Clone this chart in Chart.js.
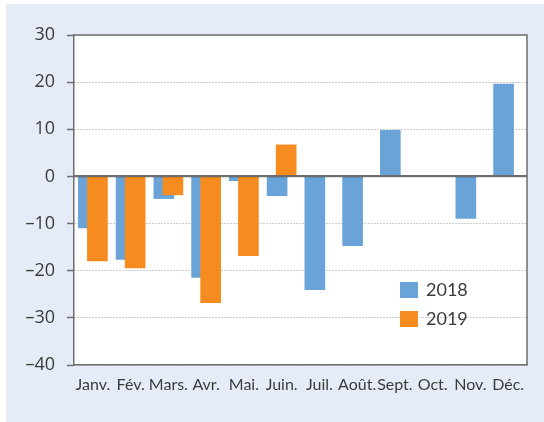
<!DOCTYPE html>
<html>
<head>
<meta charset="utf-8">
<script src="https://cdn.jsdelivr.net/npm/chart.js@4/dist/chart.umd.min.js"></script>
<style>
  html, body { margin: 0; padding: 0; background: #ffffff; }
  #wrap { position: absolute; left: 0; top: 0; width: 544px; height: 422px; }
</style>
</head>
<body>
<div id="wrap"><canvas id="c" width="544" height="422"></canvas></div>
<script>
// ---- data ----
const months = ['Janv.', 'Fév.', 'Mars.', 'Avr.', 'Mai.', 'Juin.', 'Juil.', 'Août.', 'Sept.', 'Oct.', 'Nov.', 'Déc.'];
const values2018 = [-10.9, -17.6, -4.7, -21.4, -0.9, -4.1, -24.0, -14.7, 9.8, null, -8.9, 19.6];
const values2019 = [-17.9, -19.4, -3.9, -26.8, -16.8, 6.7, null, null, null, null, null, null];
const seriesNames = ['2018', '2019'];
const yTicks = [-40, -30, -20, -10, 0, 10, 20, 30];

const BLUE = '#6aa3d8';
const ORANGE = '#f68c1f';
const TEXT = '#3b3b3b';
const AXIS = '#6e6e6e';
const PANEL = '#e5ecf7';
const SHIFT = 0.12;

function points(values, shift) {
  const out = [];
  values.forEach((v, i) => { if (v !== null) out.push({ x: i + shift, y: v }); });
  return out;
}

const chromePlugin = {
  id: 'chrome',
  beforeDraw(chart) {
    const { ctx, chartArea: a } = chart;
    ctx.save();
    ctx.fillStyle = '#ffffff';
    ctx.fillRect(0, 0, chart.width, chart.height);
    ctx.fillStyle = PANEL;
    ctx.fillRect(6, 4, chart.width - 6, chart.height - 4);
    ctx.fillStyle = '#ffffff';
    ctx.fillRect(a.left, a.top, a.right - a.left, a.bottom - a.top);
    ctx.restore();
  },
  afterDatasetsDraw(chart) {
    const { ctx, chartArea: a, scales } = chart;
    const y0 = Math.round(scales.y.getPixelForValue(0));
    ctx.save();
    ctx.strokeStyle = 'rgba(0,0,0,0.12)';
    ctx.lineWidth = 1;
    ctx.beginPath();
    ctx.moveTo(a.left, y0 + 1.5);
    ctx.lineTo(a.right, y0 + 1.5);
    ctx.stroke();
    ctx.strokeStyle = AXIS;
    ctx.lineWidth = 2;
    ctx.beginPath();
    ctx.moveTo(a.left, y0);
    ctx.lineTo(a.right, y0);
    ctx.stroke();
    ctx.lineWidth = 1.5;
    ctx.beginPath();
    ctx.moveTo(a.left, a.top);
    ctx.lineTo(a.right, a.top);
    ctx.lineTo(a.right, a.bottom);
    ctx.stroke();
    ctx.restore();
  },
  afterDraw(chart) {
    const { ctx, chartArea: a } = chart;
    const colors = [BLUE, ORANGE];
    ctx.save();
    ctx.font = '18px "Lato", sans-serif';
    ctx.textBaseline = 'middle';
    ctx.textAlign = 'left';
    seriesNames.forEach((name, i) => {
      const top = a.top + 247 + i * 29;
      ctx.fillStyle = colors[i];
      ctx.fillRect(a.left + 326, top, 18, 16);
      ctx.fillStyle = TEXT;
      ctx.fillText(name, a.left + 352, top + 8.5);
    });
    ctx.restore();
  }
};

new Chart(document.getElementById('c'), {
  type: 'bar',
  data: {
    datasets: [
      { label: seriesNames[0], data: points(values2018, -SHIFT), backgroundColor: BLUE, order: 1, grouped: false, barThickness: 20 },
      { label: seriesNames[1], data: points(values2019, SHIFT), backgroundColor: ORANGE, order: 0, grouped: false, barThickness: 20 }
    ]
  },
  options: {
    responsive: false,
    animation: false,
    devicePixelRatio: 1,
    layout: { padding: { left: 0, top: 35, right: 17, bottom: 0 } },
    plugins: { legend: { display: false }, tooltip: { enabled: false } },
    scales: {
      x: {
        type: 'linear',
        offset: false,
        min: -0.5,
        max: months.length - 0.5,
        afterBuildTicks(scale) { scale.ticks = months.map((m, i) => ({ value: i })); },
        afterFit(scale) { scale.height = 57; },
        grid: { display: false, offset: false },
        border: { display: true, color: AXIS, width: 1.5 },
        ticks: {
          autoSkip: false, maxRotation: 0, padding: 2, color: TEXT,
          font: { family: '"Lato", sans-serif', size: 16 },
          callback: (v) => months[v] ?? ''
        }
      },
      y: {
        min: yTicks[0],
        max: yTicks[yTicks.length - 1],
        afterBuildTicks(scale) { scale.ticks = yTicks.map(v => ({ value: v })); },
        afterFit(scale) { scale.width = 74; },
        grid: {
          color: (c) => (c.tick && c.tick.value === 0 ? 'rgba(0,0,0,0)' : '#999999'),
          lineWidth: 1,
          drawTicks: true,
          tickLength: 7,
          tickColor: AXIS,
          tickWidth: 1.5,
          tickBorderDash: []
        },
        border: { display: true, color: AXIS, width: 1.5, dash: [1, 2] },
        ticks: {
          padding: 12, color: TEXT,
          font: { family: '"Open Sans", sans-serif', size: 18 },
          callback: (v) => (v < 0 ? '–' + Math.abs(v) : String(v))
        }
      }
    }
  },
  plugins: [chromePlugin]
});
</script>
</body>
</html>
